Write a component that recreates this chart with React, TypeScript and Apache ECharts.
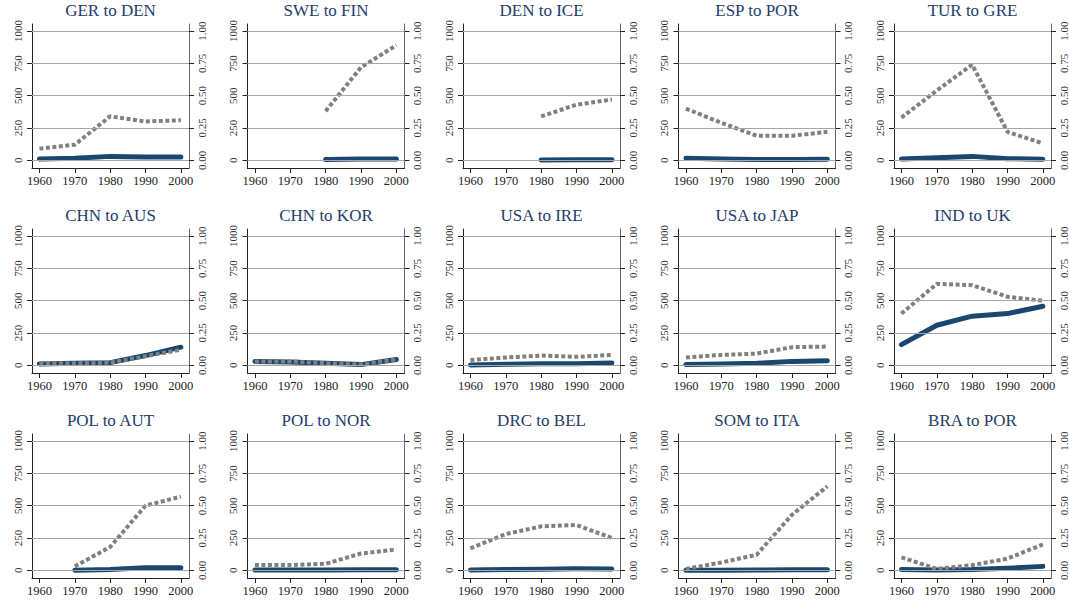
import React, { useEffect, useRef } from "react";
import * as echarts from "echarts";

const years = [1960, 1970, 1980, 1990, 2000];
const titles = [
  "GER to DEN", "SWE to FIN", "DEN to ICE", "ESP to POR", "TUR to GRE",
  "CHN to AUS", "CHN to KOR", "USA to IRE", "USA to JAP", "IND to UK",
  "POL to AUT", "POL to NOR", "DRC to BEL", "SOM to ITA", "BRA to POR",
];
// solid line, left axis (0-1000)
const stockValues: (number | null)[][] = [
  [10, 15, 30, 25, 25],
  [null, null, 5, 10, 10],
  [null, null, 2, 3, 3],
  [15, 10, 5, 5, 8],
  [10, 20, 30, 12, 8],
  [10, 15, 20, 75, 140],
  [30, 25, 15, 5, 45],
  [2, 8, 12, 12, 18],
  [5, 10, 15, 30, 35],
  [160, 310, 380, 400, 457],
  [null, 0, 5, 20, 20],
  [2, 2, 2, 3, 3],
  [2, 5, 8, 12, 10],
  [0, 0, 2, 3, 3],
  [5, 2, 5, 15, 30],
];
// dashed line, right axis (0-1)
const shareValues: (number | null)[][] = [
  [0.09, 0.12, 0.34, 0.30, 0.31],
  [null, null, 0.38, 0.72, 0.89],
  [null, null, 0.34, 0.43, 0.47],
  [0.40, 0.29, 0.19, 0.19, 0.22],
  [0.33, 0.54, 0.74, 0.22, 0.13],
  [0.015, 0.015, 0.02, 0.07, 0.12],
  [0.03, 0.03, 0.015, 0.005, 0.045],
  [0.04, 0.06, 0.075, 0.065, 0.08],
  [0.06, 0.08, 0.09, 0.14, 0.145],
  [0.40, 0.63, 0.62, 0.53, 0.50],
  [null, 0.03, 0.18, 0.50, 0.57],
  [0.04, 0.04, 0.05, 0.13, 0.16],
  [0.17, 0.28, 0.34, 0.35, 0.25],
  [0.01, 0.06, 0.12, 0.43, 0.65],
  [0.10, 0.01, 0.04, 0.09, 0.20],
];
const leftTicks = [0, 250, 500, 750, 1000];
const rightTicks = [0, 0.25, 0.5, 0.75, 1];
const xTicks = [1960, 1970, 1980, 1990, 2000];

const FONT = "'Liberation Serif', 'DejaVu Serif', 'Times New Roman', serif";
const NAVY = "#1a476f";
const GRAY = "#808080";

function pairs(vals: (number | null)[]) {
  const out: number[][] = [];
  years.forEach((y, i) => {
    const v = vals[i];
    if (v !== null && v !== undefined) out.push([y, v]);
  });
  return out;
}

export default function App() {
  const ref = useRef<HTMLDivElement>(null);
  useEffect(() => {
    if (!ref.current) return;
    const chart = echarts.init(ref.current, null, { renderer: "svg" });
    const grids: any[] = [];
    const xAxes: any[] = [];
    const yAxes: any[] = [];
    const series: any[] = [];
    const title: any[] = [];
    titles.forEach((t, i) => {
      const r = Math.floor(i / 5);
      const c = i % 5;
      const left = 32 + 215.5 * c;
      const top = 24 + 205 * r;
      const width = 157;
      const height = 144;
      grids.push({ left, top, width, height, containLabel: false });
      title.push({
        text: t,
        left: left + width / 2,
        top: 2 + 205 * r,
        textAlign: "center",
        padding: 0,
        textStyle: { fontFamily: FONT, fontSize: 17, fontWeight: "normal", color: "#233c6a" },
      });
      xAxes.push({
        type: "value",
        gridIndex: i,
        min: 1957.9,
        max: 2002.3,
        axisLine: { show: true, onZero: false, lineStyle: { color: "#222", width: 1 } },
        axisTick: { show: true, customValues: xTicks, length: 5, lineStyle: { color: "#222" } },
        axisLabel: {
          customValues: xTicks,
          fontFamily: FONT,
          fontSize: 12.5,
          color: "#222",
          margin: 6,
          formatter: (v: number) => String(v),
        },
        splitLine: { show: false },
      });
      yAxes.push({
        type: "value",
        gridIndex: i,
        position: "left",
        min: -60,
        max: 1055,
        axisLine: { show: true, onZero: false, lineStyle: { color: "#222", width: 1 } },
        axisTick: { show: true, customValues: leftTicks, length: 5, lineStyle: { color: "#222" } },
        axisLabel: {
          customValues: leftTicks,
          rotate: 90,
          fontFamily: FONT,
          fontSize: 11,
          color: "#333",
          margin: 9,
          formatter: (v: number) => String(v),
        },
        splitLine: { show: false },
      });
      yAxes.push({
        type: "value",
        gridIndex: i,
        position: "right",
        min: -0.06,
        max: 1.055,
        axisLine: { show: true, onZero: false, lineStyle: { color: "#666", width: 1 } },
        axisTick: { show: true, customValues: rightTicks, length: 5, lineStyle: { color: "#222" } },
        axisLabel: {
          customValues: rightTicks,
          rotate: 90,
          fontFamily: FONT,
          fontSize: 11,
          color: "#333",
          margin: 7,
          formatter: (v: number) => v.toFixed(2),
        },
        splitLine: { show: false },
      });
      series.push({
        type: "line",
        xAxisIndex: i,
        yAxisIndex: 2 * i,
        data: [],
        z: 1,
        silent: true,
        markLine: {
          silent: true,
          symbol: "none",
          label: { show: false },
          lineStyle: { color: "#a6a6a6", width: 1.2, type: "solid" },
          data: leftTicks.map((v) => ({ yAxis: v })),
        },
      });
      series.push({
        type: "line",
        xAxisIndex: i,
        yAxisIndex: 2 * i,
        data: pairs(stockValues[i]),
        showSymbol: false,
        symbol: "none",
        z: 3,
        lineStyle: { color: NAVY, width: 5, cap: "round", join: "round" },
      });
      series.push({
        type: "line",
        xAxisIndex: i,
        yAxisIndex: 2 * i + 1,
        data: pairs(shareValues[i]),
        showSymbol: false,
        symbol: "none",
        z: 4,
        lineStyle: { color: GRAY, width: 4, type: [4, 2.5], cap: "butt" },
      });
    });
    chart.setOption({
      animation: false,
      backgroundColor: "#ffffff",
      title,
      grid: grids,
      xAxis: xAxes,
      yAxis: yAxes,
      series,
    });
    return () => chart.dispose();
  }, []);
  return (
    <div
      ref={ref}
      style={{ position: "fixed", left: 0, top: 0, width: 1069, height: 600, background: "#fff" }}
    />
  );
}
